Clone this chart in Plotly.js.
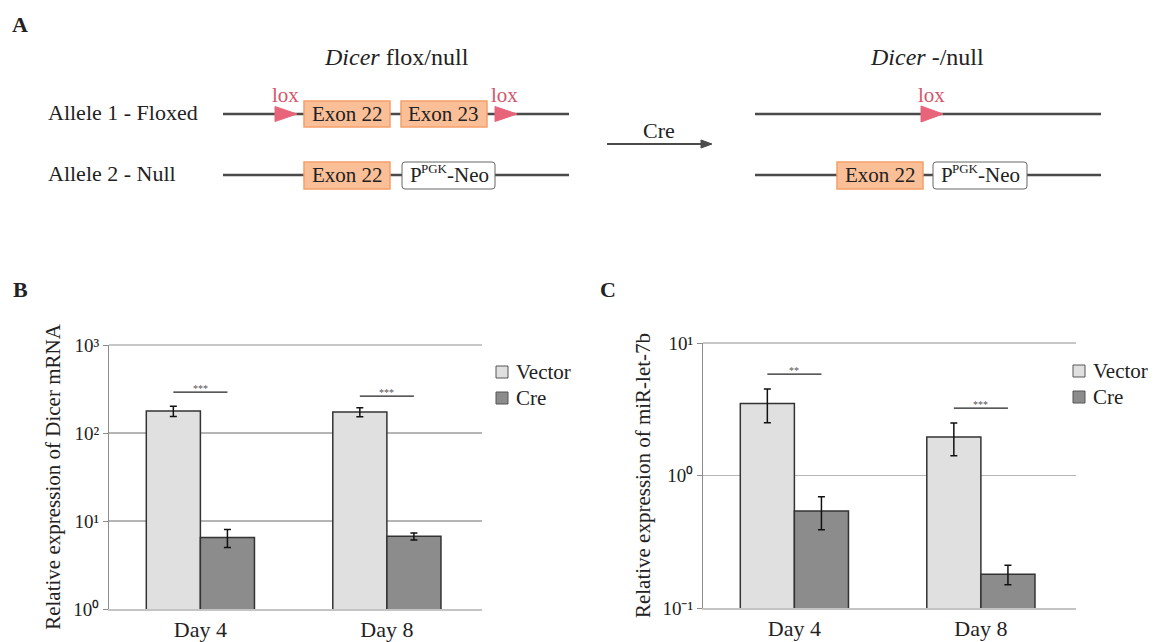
<!DOCTYPE html>
<html>
<head>
<meta charset="utf-8">
<script src="https://cdn.plot.ly/plotly-3.0.1.min.js"></script>
<style>html,body{margin:0;padding:0;background:#fff;}#chart{width:1154px;height:642px;}</style>
</head>
<body>
<div id="chart"></div>
<script>
// ---------- data ----------
const days = ['Day 4', 'Day 8'];
const seriesNames = ['Vector', 'Cre'];
const dicerVector = [178, 173];
const dicerVectorErr = [24, 20];
const dicerCre = [6.5, 6.7];
const dicerCreErr = [1.5, 0.6];
const let7Vector = [3.5, 1.95];
const let7VectorErr = [1.0, 0.54];
const let7Cre = [0.54, 0.18];
const let7CreErr = [0.15, 0.03];
const sigDicerHeight = [292, 263];
const sigDicerLabel = ['***', '***'];
const sigLet7Height = [5.83, 3.23];
const sigLet7Label = ['**', '***'];
const dicerTickVals = [1, 10, 100, 1000];
const dicerTickText = ['10\u2070', '10\u00B9', '10\u00B2', '10\u00B3'];
const let7TickVals = [0.1, 1, 10];
const let7TickText = ['10\u207B\u00B9', '10\u2070', '10\u00B9'];

// ---------- helpers ----------
const W = 1154, H = 642;
const FONT = 'Liberation Serif, Times New Roman, serif';
const TXT = '#222222';
const px = x => x / W;
const py = y => 1 - y / H;
const shapes = [];
const annotations = [];
function rect(x0, y0, x1, y1, fill, line, lw) {
  shapes.push({type: 'rect', xref: 'paper', yref: 'paper', x0: px(x0), x1: px(x1), y0: py(y1), y1: py(y0),
    fillcolor: fill, line: {color: line, width: lw}, layer: 'above'});
}
function roundRect(x0, y0, x1, y1, r, fill, line, lw) {
  const p = (x, y) => px(x) + ',' + py(y);
  const d = 'M' + p(x0 + r, y0) + ' L' + p(x1 - r, y0) + ' Q' + p(x1, y0) + ' ' + p(x1, y0 + r) +
    ' L' + p(x1, y1 - r) + ' Q' + p(x1, y1) + ' ' + p(x1 - r, y1) +
    ' L' + p(x0 + r, y1) + ' Q' + p(x0, y1) + ' ' + p(x0, y1 - r) +
    ' L' + p(x0, y0 + r) + ' Q' + p(x0, y0) + ' ' + p(x0 + r, y0) + ' Z';
  shapes.push({type: 'path', xref: 'paper', yref: 'paper', path: d, fillcolor: fill, line: {color: line, width: lw}, layer: 'above'});
}
function line(x0, y0, x1, y1, color, lw) {
  shapes.push({type: 'line', xref: 'paper', yref: 'paper', x0: px(x0), x1: px(x1), y0: py(y0), y1: py(y1),
    line: {color: color, width: lw}, layer: 'above'});
}
function tri(x0, x1, yc, h, color) {
  const d = 'M' + px(x0) + ',' + py(yc - h) + ' L' + px(x1) + ',' + py(yc) + ' L' + px(x0) + ',' + py(yc + h) + ' Z';
  shapes.push({type: 'path', xref: 'paper', yref: 'paper', path: d, fillcolor: color, line: {color: color, width: 1}, layer: 'above'});
}
function ann(text, x, y, size, opts) {
  annotations.push(Object.assign({text: text, x: px(x), y: py(y), xref: 'paper', yref: 'paper', showarrow: false,
    xanchor: 'center', yanchor: 'middle', borderpad: 0, font: {family: FONT, size: size, color: TXT}}, opts || {}));
}
function pgkNeo(x0, yc) {
  ann('P', x0, yc, 21, {xanchor: 'left'});
  ann('PGK', x0 + 11, yc - 6, 13, {xanchor: 'left'});
  ann('-Neo', x0 + 37, yc, 21, {xanchor: 'left'});
}

// ---------- panel A (schematic) ----------
const LINEC = '#4a4a4a', EXF = '#fbbf98', EXL = '#f5a06a', LOX = '#e8647a', LOXT = '#d4566c';
const loxFont = {family: FONT, size: 21, color: LOXT};
ann('<b>A</b>', 20, 24, 22);
ann('<i>Dicer</i> flox/null', 396, 57, 24);
ann('<i>Dicer</i> -/null', 927, 57, 24);
ann('Allele 1 - Floxed', 47, 113, 22, {xanchor: 'left'});
ann('Allele 2 - Null', 47, 174, 22, {xanchor: 'left'});
// left rows
line(223, 114, 569, 114, LINEC, 2.5);
line(223, 175, 569, 175, LINEC, 2.5);
rect(304, 101, 390, 127, EXF, EXL, 1.5);
rect(401, 101, 487, 127, EXF, EXL, 1.5);
tri(275, 297, 114, 7.5, LOX);
tri(495, 517, 114, 7.5, LOX);
ann('Exon 22', 347, 114, 21);
ann('Exon 23', 444, 114, 21);
ann('lox', 285, 95, 21, {font: loxFont});
ann('lox', 504, 95, 21, {font: loxFont});
rect(304, 162, 390, 189, EXF, EXL, 1.5);
roundRect(402, 162, 495, 189, 3, '#ffffff', '#666666', 1);
ann('Exon 22', 347, 175, 21);
pgkNeo(409, 175);
// Cre arrow
line(607, 144, 704, 144, LINEC, 2);
shapes.push({type: 'path', xref: 'paper', yref: 'paper',
  path: 'M' + px(701) + ',' + py(140) + ' L' + px(712) + ',' + py(144) + ' L' + px(701) + ',' + py(148) + ' Z',
  fillcolor: LINEC, line: {color: LINEC, width: 1}, layer: 'above'});
ann('Cre', 659, 130, 22);
// right rows
line(755, 114, 1101, 114, LINEC, 2.5);
tri(921, 943, 114, 8, LOX);
ann('lox', 931, 95, 21, {font: loxFont});
line(755, 175, 1101, 175, LINEC, 2.5);
rect(837, 162, 923, 189, EXF, EXL, 1.5);
roundRect(933, 162, 1027, 189, 3, '#ffffff', '#666666', 1);
ann('Exon 22', 880, 175, 21);
pgkNeo(940, 175);

// ---------- panel labels B, C ----------
ann('<b>B</b>', 20, 289, 22);
ann('<b>C</b>', 608, 290, 22);

// ---------- bars ----------
const VEC = '#e0e0e0', CRE = '#8c8c8c', OUT = '#333333';
function barTrace(name, y, err, color, xa, ya) {
  return {type: 'bar', name: name, x: days, y: y, xaxis: xa, yaxis: ya,
    marker: {color: color, line: {color: OUT, width: 1.5}},
    error_y: {type: 'data', array: err, visible: true, color: '#111111', thickness: 1.5, width: 3.5},
    showlegend: false, hoverinfo: 'x+y'};
}
const data = [
  barTrace(seriesNames[0], dicerVector, dicerVectorErr, VEC, 'x', 'y'),
  barTrace(seriesNames[1], dicerCre, dicerCreErr, CRE, 'x', 'y'),
  barTrace(seriesNames[0], let7Vector, let7VectorErr, VEC, 'x2', 'y2'),
  barTrace(seriesNames[1], let7Cre, let7CreErr, CRE, 'x2', 'y2')
];

// top gridlines (range edge)
['', '2'].forEach(s => {
  shapes.push({type: 'line', xref: 'x' + s + ' domain', yref: 'y' + s + ' domain', x0: 0, x1: 1, y0: 1, y1: 1,
    line: {color: '#b5b5b5', width: 1.5}, layer: 'below'});
});

// significance brackets
const half = 0.145;
function sig(heights, labels, xref, yref) {
  heights.forEach((h, i) => {
    shapes.push({type: 'line', xref: xref, yref: yref, x0: i - half, x1: i + half, y0: h, y1: h,
      line: {color: '#222222', width: 1.2}, layer: 'above'});
    annotations.push({text: labels[i], x: i, y: Math.log10(h), xref: xref, yref: yref, showarrow: false,
      xanchor: 'center', yanchor: 'bottom', yshift: -3, borderpad: 0, font: {family: FONT, size: 10, color: '#555555'}});
  });
}
sig(sigDicerHeight, sigDicerLabel, 'x', 'y');
sig(sigLet7Height, sigLet7Label, 'x2', 'y2');

// manual legends
function legend(x, y) {
  rect(x, y - 6, x + 12, y + 6, VEC, '#555555', 1);
  ann(seriesNames[0], x + 19, y, 21, {xanchor: 'left'});
  rect(x, y + 20, x + 12, y + 32, CRE, '#555555', 1);
  ann(seriesNames[1], x + 19, y + 26, 21, {xanchor: 'left'});
}
legend(496, 372);
legend(1073, 371);

function yAxis(domain, range, vals, text, title) {
  return {type: 'log', domain: domain, range: range, tickvals: vals, ticktext: text,
    showgrid: true, gridcolor: '#b5b5b5', gridwidth: 1.5, zeroline: false,
    showline: true, linecolor: '#8c8c8c', linewidth: 1, ticks: 'outside', ticklen: 5, tickcolor: '#8c8c8c',
    tickfont: {family: FONT, size: 19, color: TXT},
    title: {text: title, font: {family: FONT, size: 21, color: TXT}, standoff: 6}, fixedrange: true};
}
function xAxis(domain, anchor) {
  return {type: 'category', domain: domain, range: [-0.49, 1.51], anchor: anchor,
    showline: true, linecolor: '#c4c4c4', linewidth: 2, ticks: '', showgrid: false,
    tickfont: {family: FONT, size: 22, color: TXT}, fixedrange: true};
}

const layout = {
  width: W, height: H, margin: {l: 0, r: 0, t: 0, b: 0},
  paper_bgcolor: '#ffffff', plot_bgcolor: 'rgba(0,0,0,0)',
  showlegend: false, barmode: 'group', bargap: 0.42, bargroupgap: 0,
  font: {family: FONT, color: TXT},
  xaxis: xAxis([px(109), px(482)], 'y'),
  yaxis: Object.assign(yAxis([py(609), py(345)], [0, 3], dicerTickVals, dicerTickText, 'Relative expression of Dicer mRNA'), {anchor: 'x'}),
  xaxis2: xAxis([px(703), px(1076)], 'y2'),
  yaxis2: Object.assign(yAxis([py(608), py(343)], [-1, 1], let7TickVals, let7TickText, 'Relative expression of miR-let-7b'), {anchor: 'x2'}),
  shapes: shapes,
  annotations: annotations
};

Plotly.newPlot('chart', data, layout, {displayModeBar: false, staticPlot: true});
</script>
</body>
</html>
